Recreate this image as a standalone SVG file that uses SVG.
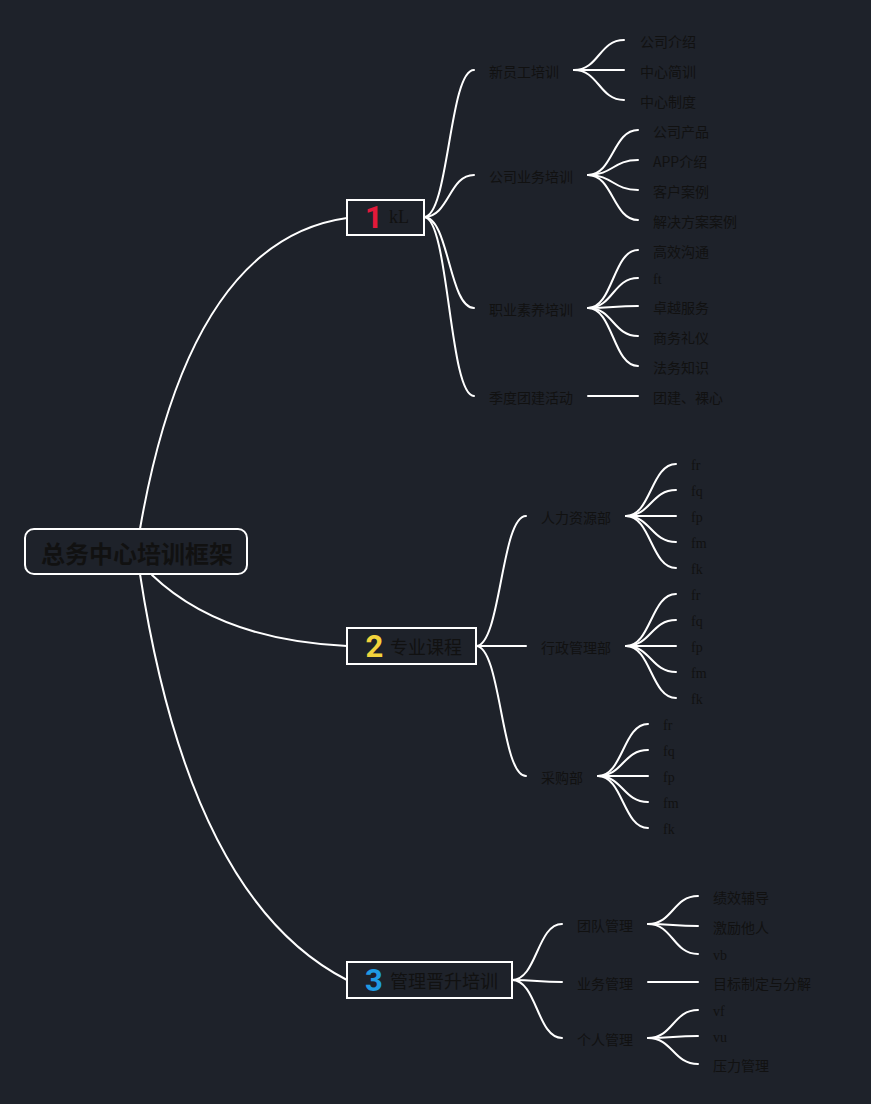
<svg xmlns="http://www.w3.org/2000/svg" width="871" height="1104" viewBox="0 0 871 1104">
<style>
.bg{fill:#1e222a}
.c{fill:none;stroke:#ffffff;stroke-width:2;stroke-linecap:round}
.box{fill:#1e222a;stroke:#ffffff;stroke-width:2}
.t{font-family:"Noto Sans CJK SC","Noto Sans",sans-serif;font-size:14px;fill:#111111;dominant-baseline:central}
.l{font-family:"Liberation Serif",serif;font-size:14px;fill:#111111;dominant-baseline:central}
.nt{font-family:"Noto Sans CJK SC","Noto Sans",sans-serif;font-size:18px;fill:#111111;dominant-baseline:central}
.num{font-family:Roboto,"Liberation Sans",sans-serif;font-size:31px;font-weight:bold;dominant-baseline:central;text-anchor:middle}
.root{font-family:"Noto Sans CJK SC","Noto Sans",sans-serif;font-size:24px;font-weight:bold;fill:#111111;dominant-baseline:central;text-anchor:middle}
</style>
<rect class="bg" x="0" y="0" width="871" height="1104"/>
<g id="connectors">
<path class="c" d="M140,529 Q190,240 347,218"/>
<path class="c" d="M152,575 Q220,640 347,646"/>
<path class="c" d="M140,574 Q190,900 347,980"/>
<path class="c" d="M424,217 C449,217 449,70 474,70"/>
<path class="c" d="M424,217 C449,217 449,175 474,175"/>
<path class="c" d="M424,217 C449,217 449,308 474,308"/>
<path class="c" d="M424,217 C449,217 449,396 474,396"/>
<path class="c" d="M574,70 C599,70 599,40 624,40"/>
<path class="c" d="M574,70 L624,70"/>
<path class="c" d="M574,70 C599,70 599,100 624,100"/>
<path class="c" d="M588,175 C613,175 613,130 638,130"/>
<path class="c" d="M588,175 C613,175 613,160 638,160"/>
<path class="c" d="M588,175 C613,175 613,190 638,190"/>
<path class="c" d="M588,175 C613,175 613,220 638,220"/>
<path class="c" d="M588,308 C613,308 613,250 638,250"/>
<path class="c" d="M588,308 C613,308 613,278 638,278"/>
<path class="c" d="M588,308 C613,308 613,306 638,306"/>
<path class="c" d="M588,308 C613,308 613,336 638,336"/>
<path class="c" d="M588,308 C613,308 613,366 638,366"/>
<path class="c" d="M588,396 L638,396"/>
<path class="c" d="M476,646 C501,646 501,516 526,516"/>
<path class="c" d="M476,646 L526,646"/>
<path class="c" d="M476,646 C501,646 501,776 526,776"/>
<path class="c" d="M626,516 C651,516 651,464 676,464"/>
<path class="c" d="M626,516 C651,516 651,490 676,490"/>
<path class="c" d="M626,516 L676,516"/>
<path class="c" d="M626,516 C651,516 651,542 676,542"/>
<path class="c" d="M626,516 C651,516 651,568 676,568"/>
<path class="c" d="M626,646 C651,646 651,594 676,594"/>
<path class="c" d="M626,646 C651,646 651,620 676,620"/>
<path class="c" d="M626,646 L676,646"/>
<path class="c" d="M626,646 C651,646 651,672 676,672"/>
<path class="c" d="M626,646 C651,646 651,698 676,698"/>
<path class="c" d="M598,776 C623,776 623,724 648,724"/>
<path class="c" d="M598,776 C623,776 623,750 648,750"/>
<path class="c" d="M598,776 L648,776"/>
<path class="c" d="M598,776 C623,776 623,802 648,802"/>
<path class="c" d="M598,776 C623,776 623,828 648,828"/>
<path class="c" d="M512,980 C537,980 537,924 562,924"/>
<path class="c" d="M512,980 C537,980 537,982 562,982"/>
<path class="c" d="M512,980 C537,980 537,1038 562,1038"/>
<path class="c" d="M648,924 C673,924 673,896 698,896"/>
<path class="c" d="M648,924 C673,924 673,926 698,926"/>
<path class="c" d="M648,924 C673,924 673,954 698,954"/>
<path class="c" d="M648,982 L698,982"/>
<path class="c" d="M648,1038 C673,1038 673,1010 698,1010"/>
<path class="c" d="M648,1038 C673,1038 673,1036 698,1036"/>
<path class="c" d="M648,1038 C673,1038 673,1064 698,1064"/>
</g>
<g id="root">
<rect x="25" y="529" width="222" height="45" rx="9" fill="#1e222a" stroke="#ffffff" stroke-width="2"/>
<text class="root" x="137" y="552">总务中心培训框架</text>
</g>
<g id="node1">
<rect class="box" x="347" y="200" width="77" height="35"/>
<text class="num" x="374" y="217" fill="#e3193a">1</text>
<text x="389" y="223" font-family="Liberation Serif, serif" font-size="18" fill="#111111">kL</text>
</g>
<g id="node2">
<rect class="box" x="347" y="628" width="129" height="36"/>
<text class="num" x="374.5" y="646" fill="#f2d33c">2</text>
<text class="nt" x="390" y="646">专业课程</text>
</g>
<g id="node3">
<rect class="box" x="347" y="962" width="165" height="36"/>
<text class="num" x="374" y="980" fill="#1f9be3">3</text>
<text class="nt" x="390" y="980">管理晋升培训</text>
</g>
<g id="n1-1"><text class="t" x="489" y="71">新员工培训</text></g>
<g id="n1-1-1"><text class="t" x="640" y="41">公司介绍</text></g>
<g id="n1-1-2"><text class="t" x="640" y="71">中心简训</text></g>
<g id="n1-1-3"><text class="t" x="640" y="101">中心制度</text></g>
<g id="n1-2"><text class="t" x="489" y="176">公司业务培训</text></g>
<g id="n1-2-1"><text class="t" x="653" y="131">公司产品</text></g>
<g id="n1-2-2"><text class="t" x="653" y="161">APP介绍</text></g>
<g id="n1-2-3"><text class="t" x="653" y="191">客户案例</text></g>
<g id="n1-2-4"><text class="t" x="653" y="221">解决方案案例</text></g>
<g id="n1-3"><text class="t" x="489" y="309">职业素养培训</text></g>
<g id="n1-3-1"><text class="t" x="653" y="251">高效沟通</text></g>
<g id="n1-3-2"><text class="l" x="653" y="279">ft</text></g>
<g id="n1-3-3"><text class="t" x="653" y="307">卓越服务</text></g>
<g id="n1-3-4"><text class="t" x="653" y="337">商务礼仪</text></g>
<g id="n1-3-5"><text class="t" x="653" y="367">法务知识</text></g>
<g id="n1-4"><text class="t" x="489" y="397">季度团建活动</text></g>
<g id="n1-4-1"><text class="t" x="653" y="397">团建、裸心</text></g>
<g id="n2-1"><text class="t" x="541" y="517">人力资源部</text></g>
<g id="n2-1-1"><text class="l" x="691" y="465">fr</text></g>
<g id="n2-1-2"><text class="l" x="691" y="491">fq</text></g>
<g id="n2-1-3"><text class="l" x="691" y="517">fp</text></g>
<g id="n2-1-4"><text class="l" x="691" y="543">fm</text></g>
<g id="n2-1-5"><text class="l" x="691" y="569">fk</text></g>
<g id="n2-2"><text class="t" x="541" y="647">行政管理部</text></g>
<g id="n2-2-1"><text class="l" x="691" y="595">fr</text></g>
<g id="n2-2-2"><text class="l" x="691" y="621">fq</text></g>
<g id="n2-2-3"><text class="l" x="691" y="647">fp</text></g>
<g id="n2-2-4"><text class="l" x="691" y="673">fm</text></g>
<g id="n2-2-5"><text class="l" x="691" y="699">fk</text></g>
<g id="n2-3"><text class="t" x="541" y="777">采购部</text></g>
<g id="n2-3-1"><text class="l" x="663" y="725">fr</text></g>
<g id="n2-3-2"><text class="l" x="663" y="751">fq</text></g>
<g id="n2-3-3"><text class="l" x="663" y="777">fp</text></g>
<g id="n2-3-4"><text class="l" x="663" y="803">fm</text></g>
<g id="n2-3-5"><text class="l" x="663" y="829">fk</text></g>
<g id="n3-1"><text class="t" x="577" y="925">团队管理</text></g>
<g id="n3-1-1"><text class="t" x="713" y="897">绩效辅导</text></g>
<g id="n3-1-2"><text class="t" x="713" y="927">激励他人</text></g>
<g id="n3-1-3"><text class="l" x="713" y="955">vb</text></g>
<g id="n3-2"><text class="t" x="577" y="983">业务管理</text></g>
<g id="n3-2-1"><text class="t" x="713" y="983">目标制定与分解</text></g>
<g id="n3-3"><text class="t" x="577" y="1039">个人管理</text></g>
<g id="n3-3-1"><text class="l" x="713" y="1011">vf</text></g>
<g id="n3-3-2"><text class="l" x="713" y="1037">vu</text></g>
<g id="n3-3-3"><text class="t" x="713" y="1065">压力管理</text></g>
</svg>
